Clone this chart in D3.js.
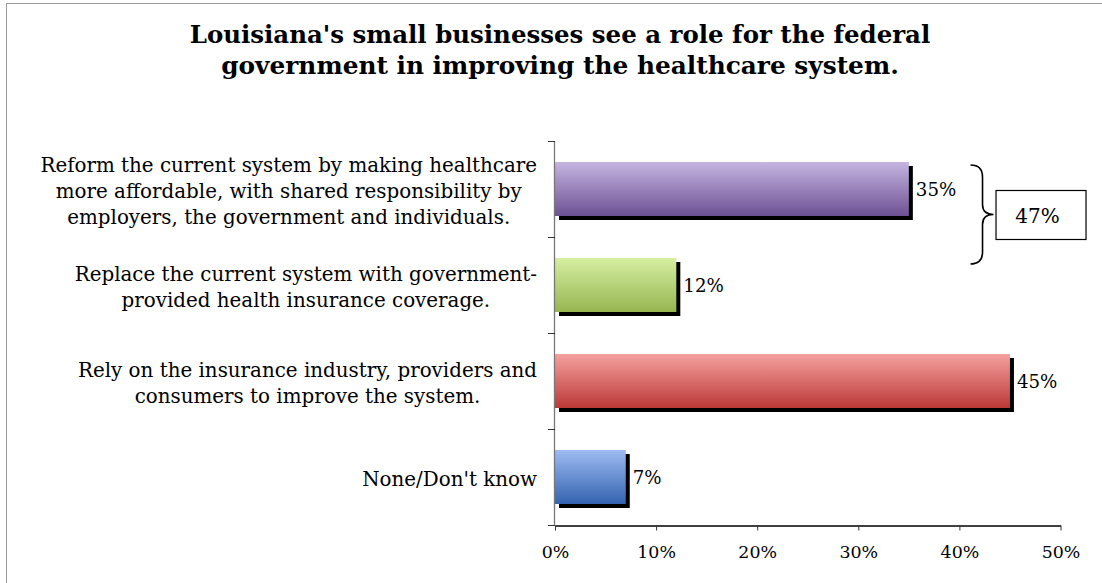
<!DOCTYPE html>
<html>
<head>
<meta charset="utf-8">
<script src="https://cdn.jsdelivr.net/npm/d3@7"></script>
<style>
  html, body { margin: 0; padding: 0; background: #fff; }
  svg { display: block; }
  text { font-family: "DejaVu Serif", "Liberation Serif", serif; fill: #000; }
</style>
</head>
<body>
<svg id="chart" width="1102" height="583"></svg>
<script>
// ---- data ----
const titleLines = [
  "Louisiana's small businesses see a role for the federal",
  "government in improving the healthcare system."
];
const categories = [
  ["Reform the current system by making healthcare",
   "more affordable, with shared responsibility by",
   "employers, the government and individuals."],
  ["Replace the current system with government-",
   "provided health insurance coverage."],
  ["Rely on the insurance industry, providers and",
   "consumers to improve the system."],
  ["None/Don't know"]
];
const values = [0.35, 0.12, 0.45, 0.07];
const colorsTop = ["#c5b5e0", "#d6efa2", "#f5a19e", "#9ebcf2"];
const colorsBottom = ["#6d5194", "#96b651", "#bb3937", "#3463b0"];
const xTicks = [0, 0.1, 0.2, 0.3, 0.4, 0.5];
const bracketIdx = [0, 1];

// ---- layout ----
const svg = d3.select("#chart");
const ids = categories.map((c, i) => "c" + i);

const x = d3.scaleLinear().domain([0, 0.5]).range([555, 1060.5]);
const y = d3.scaleBand().domain(ids).range([141, 525])
  .paddingInner(0.4375).paddingOuter(0.21875);

// frame
svg.append("rect").attr("x", 6.5).attr("y", 3.5).attr("width", 1110).attr("height", 600)
  .attr("fill", "#fff").attr("stroke", "#9a9a9a").attr("stroke-width", 1);

// gradients
const defs = svg.append("defs");
ids.forEach((id, i) => {
  const g = defs.append("linearGradient").attr("id", "g" + id)
    .attr("x1", 0).attr("y1", 0).attr("x2", 0).attr("y2", 1);
  g.append("stop").attr("offset", "0%").attr("stop-color", colorsTop[i]);
  g.append("stop").attr("offset", "100%").attr("stop-color", colorsBottom[i]);
});

// title
const title = svg.append("g").attr("font-weight", "bold");
const titleTargets = [741, 678];
titleLines.forEach((t, i) => {
  const el = title.append("text").attr("x", 560).attr("y", 43 + i * 31)
    .attr("text-anchor", "middle").attr("font-size", 24).text(t);
  const w = el.node().getComputedTextLength();
  el.attr("font-size", 24 * titleTargets[i] / w);
});

// category label font fit
const labG = svg.append("g");
const baseSize = 16;
const probe = labG.append("text").attr("font-size", baseSize).text(categories[0][0]);
const scaleF = 497 / probe.node().getComputedTextLength();
probe.remove();
const fs = baseSize * scaleF;

// shadows + bars
const bars = svg.append("g");
bars.selectAll("rect.shadow").data(values).join("rect")
  .attr("class", "shadow")
  .attr("x", x(0) + 4)
  .attr("y", (d, i) => y(ids[i]) + 4)
  .attr("width", d => x(d) - x(0))
  .attr("height", y.bandwidth())
  .attr("fill", "#000");
bars.selectAll("rect.bar").data(values).join("rect")
  .attr("class", "bar")
  .attr("x", x(0))
  .attr("y", (d, i) => y(ids[i]))
  .attr("width", d => x(d) - x(0))
  .attr("height", y.bandwidth())
  .attr("fill", (d, i) => "url(#g" + ids[i] + ")");

// value labels
svg.append("g").selectAll("text").data(values).join("text")
  .attr("x", d => x(d) + 7)
  .attr("y", (d, i) => y(ids[i]) + y.bandwidth() / 2 + 1)
  .attr("dy", "0.35em")
  .attr("font-size", 18.2)
  .text(d => d3.format(".0%")(d));

// x axis
const xAxis = svg.append("g").attr("transform", "translate(0,525.5)")
  .call(d3.axisBottom(x).tickValues(xTicks).tickFormat(d3.format(".0%")).tickSize(5).tickSizeOuter(0));
xAxis.attr("font-family", null).attr("font-size", null);
xAxis.select(".domain").attr("stroke", "#000").attr("stroke-width", 1.3);
xAxis.selectAll(".tick line").attr("stroke", "#333");
xAxis.selectAll(".tick text").attr("font-size", 17.4).attr("y", 26.5).attr("dy", "0.35em").attr("fill", "#000");

// y axis (ticks between categories)
const half = (y.step() - y.bandwidth()) / 2;
const yTickPos = ids.map(id => y(id) - half).concat([y(ids[ids.length - 1]) + y.bandwidth() + half]);
const yAx = svg.append("g");
yAx.append("line").attr("x1", x(0) - 0.5).attr("x2", x(0) - 0.5)
  .attr("y1", yTickPos[0]).attr("y2", yTickPos[yTickPos.length - 1])
  .attr("stroke", "#777").attr("stroke-width", 1.3);
yAx.selectAll("line.t").data(yTickPos).join("line").attr("class", "t")
  .attr("x1", x(0) - 7).attr("x2", x(0))
  .attr("y1", d => Math.round(d) + 0.5).attr("y2", d => Math.round(d) + 0.5)
  .attr("stroke", "#333").attr("stroke-width", 1);

// category labels
const lineH = 26;
categories.forEach((lines, i) => {
  const g = labG.append("g");
  const texts = lines.map((l, j) => g.append("text").attr("font-size", fs)
    .attr("y", y(ids[i]) + y.bandwidth() / 2 + 2 + (j - (lines.length - 1) / 2) * lineH)
    .attr("dy", "0.35em").attr("text-anchor", "middle").text(l));
  const maxW = d3.max(texts, t => t.node().getComputedTextLength());
  texts.forEach(t => t.attr("x", 537 - maxW / 2));
});

// bracket + box
const bTop = y(ids[bracketIdx[0]]) + 3;
const bBot = y(ids[bracketIdx[1]]) + 6;
const bMid = (bTop + bBot) / 2;
const bx0 = x(0.411), bx1 = bx0 + 12, bx2 = bx0 + 23;
svg.append("path")
  .attr("d", `M${bx0},${bTop} Q${bx1},${bTop} ${bx1},${bTop + 12} L${bx1},${bMid - 10} Q${bx1},${bMid} ${bx2},${bMid} Q${bx1},${bMid} ${bx1},${bMid + 10} L${bx1},${bBot - 12} Q${bx1},${bBot} ${bx0},${bBot}`)
  .attr("fill", "none").attr("stroke", "#000").attr("stroke-width", 1.6);
const boxX = bx2 + 2, boxW = 90, boxH = 49;
svg.append("rect").attr("x", boxX + 0.5).attr("y", bMid - boxH / 2 + 0.5)
  .attr("width", boxW).attr("height", boxH)
  .attr("fill", "#fff").attr("stroke", "#000").attr("stroke-width", 1.2);
const sum = bracketIdx.reduce((s, i) => s + values[i], 0);
svg.append("text").attr("x", boxX + boxW / 2 - 3).attr("y", bMid + 1).attr("dy", "0.35em")
  .attr("text-anchor", "middle").attr("font-size", 20)
  .text(d3.format(".0%")(sum));
</script>
</body>
</html>
